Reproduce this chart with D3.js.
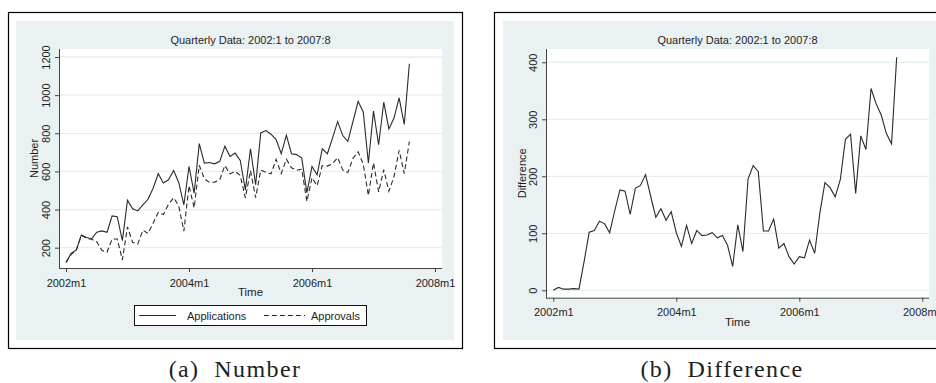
<!DOCTYPE html>
<html>
<head>
<meta charset="utf-8">
<script src="https://cdn.jsdelivr.net/npm/d3@7"></script>
<style>
  body { margin: 0; background: #fff; }
  svg text { font-family: "Liberation Sans", Arial, sans-serif; fill: #1e1e1e; }
</style>
</head>
<body>
<svg id="chart" width="936" height="383"></svg>
<script>
// monthly series, 2002m1 .. 2007m8 (68 months)
const applications = [123, 170, 188, 267, 253, 246, 281, 288, 281, 367, 363, 237,
  449, 404, 393, 425, 454, 512, 588, 539, 556, 605, 542, 425,
  626, 486, 746, 644, 647, 640, 653, 732, 679, 696, 658, 503,
  719, 530, 802, 814, 795, 767, 693, 789, 693, 688, 670, 489,
  626, 582, 718, 693, 775, 861, 788, 758, 863, 968, 912, 644,
  916, 740, 963, 823, 880, 986, 846, 1165];
const approvals = [123, 165, 186, 265, 250, 244, 231, 186, 176, 246, 246, 136,
  309, 228, 219, 292, 275, 328, 385, 374, 428, 462, 419, 287,
  525, 409, 632, 562, 542, 544, 556, 631, 587, 600, 579, 461,
  604, 462, 607, 595, 587, 663, 589, 664, 619, 606, 611, 443,
  567, 525, 630, 628, 640, 672, 608, 594, 669, 703, 638, 474,
  645, 493, 609, 496, 573, 711, 589, 756];
const difference = [0, 5, 2, 2, 3, 2, 50, 102, 105, 121, 117, 101,
  140, 176, 174, 133, 179, 184, 203, 165, 128, 143, 123, 138,
  101, 77, 114, 82, 105, 96, 97, 101, 92, 96, 79, 42,
  115, 68, 195, 219, 208, 104, 104, 125, 74, 82, 59, 46,
  59, 57, 88, 65, 135, 189, 180, 164, 194, 265, 274, 170,
  271, 247, 354, 327, 307, 275, 257, 409];

const xTickMonths = [0, 24, 48, 72];
const xTickLabels = ["2002m1", "2004m1", "2006m1", "2008m1"];
const yTicksNumber = [200, 400, 600, 800, 1000, 1200];
const yTicksDiff = [0, 100, 200, 300, 400];
const titleText = "Quarterly Data: 2002:1 to 2007:8";

const svg = d3.select("#chart");
const bg = "#eaf1f3", grid = "#e6eef1", ink = "#2a2a2a";

function panel(o) {
  const g = svg.append("g");
  // frame + graph region
  g.append("rect").attr("x", o.frame[0] + 0.5).attr("y", 12.5)
    .attr("width", o.frame[1] - o.frame[0]).attr("height", 336)
    .attr("fill", "#fff").attr("stroke", "#000").attr("stroke-width", 1.2);
  g.append("rect").attr("x", o.region[0]).attr("y", 21)
    .attr("width", o.region[1] - o.region[0]).attr("height", 319).attr("fill", bg);
  // plot region
  g.append("rect").attr("x", o.plot.l).attr("y", o.plot.t)
    .attr("width", o.plot.r - o.plot.l).attr("height", o.plot.b - o.plot.t).attr("fill", "#fff");

  const x = d3.scaleLinear().domain([0, 24]).range([o.x0, o.x0 + 123]);
  const y = d3.scaleLinear().domain(o.yDomain).range(o.yRange);

  g.selectAll("line.grid").data(o.yTicks).join("line").attr("class", "grid")
    .attr("x1", o.plot.l + 1).attr("x2", o.plot.r)
    .attr("y1", d => y(d)).attr("y2", d => y(d))
    .attr("stroke", grid).attr("stroke-width", 1.3);

  const line = d3.line().x((d, i) => x(i)).y(d => y(d));
  o.series.forEach(s => {
    g.append("path").datum(s.values).attr("d", line)
      .attr("fill", "none").attr("stroke", ink).attr("stroke-width", 1.1)
      .attr("stroke-dasharray", s.dash || null);
  });

  // axes
  const yAxis = g.append("g").attr("transform", `translate(${o.plot.l},0)`)
    .call(d3.axisLeft(y).tickValues(o.yTicks).tickSize(4).tickFormat(d3.format("d")));
  yAxis.select(".domain").remove();
  yAxis.selectAll("line").attr("stroke", "#444");
  yAxis.selectAll("text").attr("transform", "rotate(-90)")
    .attr("x", 0).attr("y", -9).attr("dy", 0).attr("text-anchor", "middle")
    .style("font-size", "11px").style("font-family", null).attr("fill", "#222");

  const xAxis = g.append("g").attr("transform", `translate(0,${o.plot.b})`)
    .call(d3.axisBottom(x).tickValues(xTickMonths).tickSize(4)
      .tickFormat((d, i) => xTickLabels[i]));
  xAxis.select(".domain").remove();
  xAxis.selectAll("line").attr("stroke", "#444");
  xAxis.selectAll("text").attr("y", 18.5).attr("dy", 0)
    .style("font-size", "11px").style("font-family", null).attr("fill", "#222");

  g.append("line").attr("x1", o.plot.l + 0.5).attr("x2", o.plot.l + 0.5)
    .attr("y1", o.plot.t).attr("y2", o.plot.b + 0.5).attr("stroke", "#444");
  g.append("line").attr("x1", o.plot.l).attr("x2", o.plot.r)
    .attr("y1", o.plot.b + 0.5).attr("y2", o.plot.b + 0.5).attr("stroke", "#444");

  // titles
  const cx = (o.plot.l + o.plot.r) / 2;
  g.append("text").attr("x", cx).attr("y", 44).attr("text-anchor", "middle")
    .style("font-size", "11px").text(titleText);
  g.append("text").attr("x", cx).attr("y", o.plot.b + 28).attr("text-anchor", "middle")
    .style("font-size", "11.5px").text("Time");
  g.append("text").attr("transform", `translate(${o.yLabelX},${(o.plot.t + o.plot.b) / 2}) rotate(-90)`)
    .attr("text-anchor", "middle").style("font-size", "11px").text(o.yLabel);

  g.append("text").attr("x", o.captionX).attr("y", 377).attr("text-anchor", "middle")
    .attr("xml:space", "preserve")
    .style("font-family", "'Liberation Serif', 'DejaVu Serif', serif")
    .style("font-size", "24px").style("letter-spacing", "1.4px")
    .attr("fill", "#111").text(o.caption);
  return { g, x, y };
}

const left = panel({
  frame: [8, 462], region: [16, 454],
  plot: { l: 59, r: 442, t: 49, b: 268 },
  x0: 66, yDomain: [200, 1200], yRange: [247.7, 57], yTicks: yTicksNumber,
  yLabel: "Number", yLabelX: 38,
  series: [{ values: applications }, { values: approvals, dash: "5,3" }],
  caption: "(a)  Number", captionX: 235
});

// legend
const lg = left.g.append("g");
lg.append("rect").attr("x", 134.5).attr("y", 305.5).attr("width", 232).attr("height", 20)
  .attr("fill", "#fff").attr("stroke", "#111");
lg.append("line").attr("x1", 139).attr("x2", 176).attr("y1", 315.5).attr("y2", 315.5)
  .attr("stroke", ink).attr("stroke-width", 1.1);
lg.append("text").attr("x", 187).attr("y", 319.5).style("font-size", "11px").text("Applications");
lg.append("line").attr("x1", 264).attr("x2", 305).attr("y1", 315.5).attr("y2", 315.5)
  .attr("stroke", ink).attr("stroke-width", 1.1).attr("stroke-dasharray", "5,3");
lg.append("text").attr("x", 311).attr("y", 319.5).style("font-size", "11px").text("Approvals");

panel({
  frame: [494, 945], region: [503, 945],
  plot: { l: 546, r: 929, t: 49, b: 297.7 },
  x0: 553.3, yDomain: [0, 400], yRange: [290.3, 62.3], yTicks: yTicksDiff,
  yLabel: "Difference", yLabelX: 526,
  series: [{ values: difference }],
  caption: "(b)  Difference", captionX: 722
});
</script>
</body>
</html>
